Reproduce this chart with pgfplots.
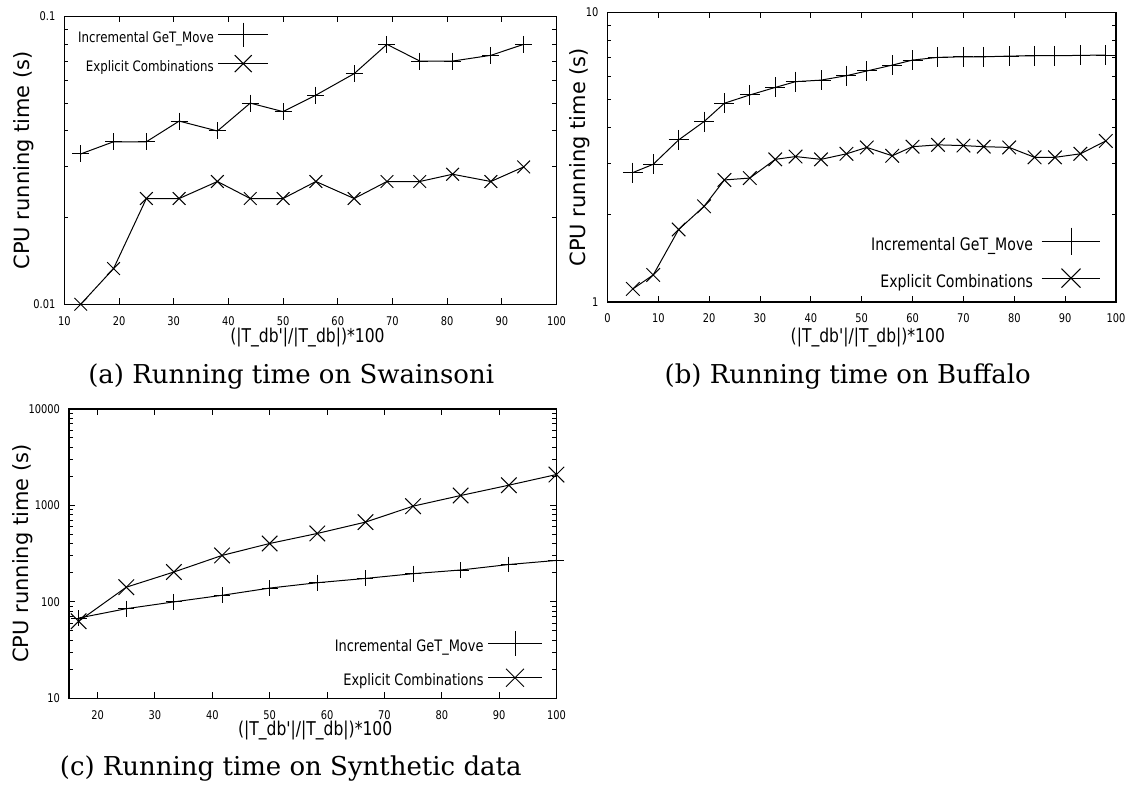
\documentclass[border=0pt]{standalone}
\usepackage{pgfplots}
\pgfplotsset{compat=1.18}
\usepackage{fontspec}
\setmainfont{DejaVu Serif}
\newfontfamily\gsans{DejaVu Sans}
\newfontfamily\gcond[FakeStretch=0.82]{DejaVu Sans}
\pgfplotsset{
  gp/.style={
    scale only axis, clip=false,
    axis line style={line width=0.6pt},
    every tick/.style={black, line width=0.5pt},
    major tick length=3pt, minor tick length=2pt,
    tick align=inside,
    ticklabel style={font=\gcond\fontsize{6}{7}\selectfont},
    xticklabel style={yshift=-2.5pt},
    yticklabel style={xshift=-1pt},
    legend cell align=right, legend plot pos=right,
    every axis plot/.append style={black, line width=0.5pt, mark options={solid}},
    ylabel={CPU running time (s)},
    xlabel={(|T\_db'|/|T\_db|)*100},
    /pgf/number format/assume math mode=true,
    /pgf/number format/1000 sep={},
  },
  gpylab/.style={every axis y label/.style={at={(axis description cs:#1,0.5)},rotate=90,anchor=center,font=\gsans\fontsize{10.5}{12}\selectfont}},
  gpxlab/.style 2 args={every axis x label/.style={at={(axis description cs:#1,#2)},anchor=center,font=\gcond\fontsize{9.5}{11}\selectfont}},
  gpleg/.style 2 args={legend image code/.code={\draw[mark repeat=2,mark phase=2,##1] plot coordinates {(0pt,#2)(#1/2,#2)(#1,#2)};}},
}
\begin{document}
\begin{tikzpicture}
\path (0pt,0pt) rectangle (566pt,393.5pt);
% (a)
\begin{semilogyaxis}[gp, at={(32.2pt,241.25pt)}, anchor=south west,
  width=246.3pt, height=144pt,
  xmin=10, xmax=100, xtick={10,20,...,100},
  ymin=0.01, ymax=0.1, ytick={0.01,0.1}, yticklabels={0.01,0.1},
  minor ytick={0.02,0.03,0.04,0.05,0.06,0.07,0.08,0.09},
  gpylab=-0.0828, gpxlab={0.494}{-0.1146},
  gpleg={25pt}{2.4pt},
  legend image post style={mark size=6pt},
  legend style={at={(0.4153,0.874)}, anchor=east, draw=none, fill=none, inner sep=0pt, outer sep=0pt, row sep=0pt, column sep=2pt,
    font=\gcond\fontsize{7.2}{8}\selectfont, nodes={inner sep=0pt, text height=9pt, text depth=5.5pt}},
]
\addplot[mark=+, mark size=4.25pt] coordinates {(13,0.0333)(19,0.0367)(25,0.0367)(31,0.0433)(38,0.04)(44,0.05)(50,0.0467)(56,0.0533)(63,0.0633)(69,0.08)(75,0.07)(81,0.07)(88,0.0733)(94,0.08)};
\addlegendentry{Incremental GeT\_Move}
\addplot[mark=x, mark size=4.5pt] coordinates {(13,0.01)(19,0.0133)(25,0.0233)(31,0.0233)(38,0.0267)(44,0.0233)(50,0.0233)(56,0.0267)(63,0.0233)(69,0.0267)(75,0.0267)(81,0.0283)(88,0.0267)(94,0.03)};
\addlegendentry{Explicit Combinations}
\end{semilogyaxis}
% (b)
\begin{semilogyaxis}[gp, at={(304pt,242.35pt)}, anchor=south west,
  width=254.5pt, height=144.9pt,
  xmin=0, xmax=100, xtick={0,10,...,100},
  ymin=1, ymax=10, ytick={1,10}, yticklabels={1,10},
  minor ytick={2,3,4,5,6,7,8,9},
  gpylab=-0.055, gpxlab={0.512}{-0.124},
  gpleg={29.5pt}{2.84pt},
  legend image post style={mark size=6.75pt},
  legend style={at={(0.9705,0.128)}, anchor=east, draw=none, fill=none, inner sep=0pt, outer sep=0pt, row sep=0pt, column sep=4pt,
    font=\gcond\fontsize{8.6}{10}\selectfont, nodes={inner sep=0pt, text height=11pt, text depth=7.5pt}},
]
\addplot[mark=+, mark size=5pt] coordinates {(5,2.80)(9,2.99)(14,3.63)(19,4.20)(23,4.86)(28,5.19)(33,5.51)(37,5.77)(42,5.84)(47,6.05)(51,6.28)(56,6.58)(60,6.85)(65,7.00)(70,7.03)(74,7.03)(79,7.07)(84,7.09)(88,7.09)(93,7.11)(98,7.13)};
\addlegendentry{Incremental GeT\_Move}
\addplot[mark=x, mark size=4.8pt] coordinates {(5,1.11)(9,1.24)(14,1.78)(19,2.14)(23,2.64)(28,2.68)(33,3.11)(37,3.18)(42,3.11)(47,3.25)(51,3.42)(56,3.20)(60,3.44)(65,3.49)(70,3.47)(74,3.44)(79,3.42)(84,3.16)(88,3.16)(93,3.25)(98,3.60)};
\addlegendentry{Explicit Combinations}
\end{semilogyaxis}
% (c)
\begin{semilogyaxis}[gp, at={(34.5pt,44pt)}, anchor=south west,
  width=244pt, height=144.85pt,
  xmin=15, xmax=100, xtick={20,30,...,100},
  ymin=10, ymax=10000, ytick={10,100,1000,10000}, yticklabels={10,100,1000,10000},
  minor ytick={20,30,40,50,60,70,80,90,200,300,400,500,600,700,800,900,2000,3000,4000,5000,6000,7000,8000,9000},
  gpylab=-0.094, gpxlab={0.505}{-0.110},
  gpleg={27pt}{2.57pt},
  legend image post style={mark size=6.3pt},
  legend style={at={(0.9713,0.1134)}, anchor=east, draw=none, fill=none, inner sep=0pt, outer sep=0pt, row sep=0pt, column sep=2pt,
    font=\gcond\fontsize{7.9}{9}\selectfont, nodes={inner sep=0pt, text height=10pt, text depth=7pt}},
]
\addplot[mark=+, mark size=4pt] coordinates {(16.7,68)(25,85)(33.3,100)(41.7,117)(50,139)(58.3,158)(66.7,175)(75,196)(83.3,214)(91.7,244)(100,269)};
\addlegendentry{Incremental GeT\_Move}
\addplot[mark=x, mark size=5.5pt] coordinates {(16.7,63)(25,142)(33.3,204)(41.7,303)(50,403)(58.3,512)(66.7,671)(75,982)(83.3,1266)(91.7,1620)(100,2089)};
\addlegendentry{Explicit Combinations}
\end{semilogyaxis}
\node[font=\fontsize{13}{15}\selectfont, anchor=base] at (145.75pt,201.5pt) {(a) Running time on Swainsoni};
\node[font=\fontsize{13}{15}\selectfont, anchor=base] at (424.25pt,201.5pt) {(b) Running time on Buffalo};
\node[font=\fontsize{13}{15}\selectfont, anchor=base] at (145.5pt,5.5pt) {(c) Running time on Synthetic data};
\end{tikzpicture}
\end{document}
